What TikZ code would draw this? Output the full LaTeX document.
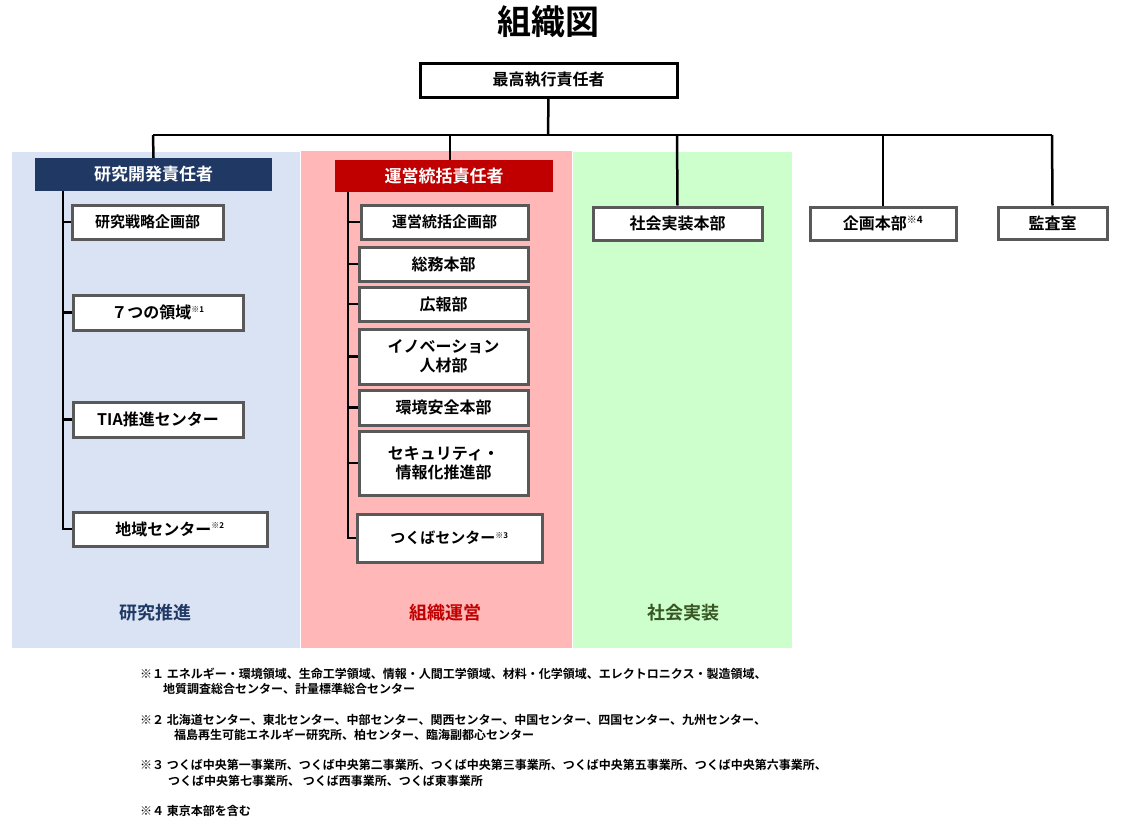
\documentclass[tikz,border=0pt]{standalone}
\usepackage{fontspec}
\setmainfont{Noto Sans CJK JP}[BoldFont={Noto Sans CJK JP Bold}]
\newfontfamily\jpb{Noto Sans CJK JP Bold}
\begin{document}
\begin{tikzpicture}[x=1pt,y=-1pt,font=\jpb,
 bx/.style={draw=black!65,line width=3pt,fill=white,font=\jpb\fontsize{16}{19}\selectfont,align=center,inner sep=0pt},
 hd/.style={font=\jpb\fontsize{17}{20}\selectfont,text=white,inner sep=0pt},
 ln/.style={line width=2.5pt,black},
 fn/.style={anchor=west,font=\jpb\fontsize{12}{15}\selectfont,inner sep=0pt}]
\useasboundingbox (0,0) rectangle (1128,822);
\fill[fill={rgb,255:red,218;green,227;blue,243}] (12,152) rectangle (300,648);
\fill[fill={rgb,255:red,255;green,183;blue,183}] (301,151) rectangle (572,648);
\fill[fill={rgb,255:red,204;green,255;blue,204}] (573,152) rectangle (792,648);
\node[font=\jpb\fontsize{34}{40}\selectfont] (title) at (548,22) {組織図};
\node[bx,draw=black,minimum width=257,minimum height=34] (ceo) at (548.5,80) {最高執行責任者};
\coordinate (bl) at (153,135); \coordinate (br) at (1052,135);
\draw[ln] (ceo.south) -- (548,135);
\draw[ln] (bl) -- (br);
\node[hd,fill={rgb,255:red,31;green,56;blue,100},minimum width=237,minimum height=33] (rd) at (153.5,174.5) {研究開発責任者};
\node[hd,fill={rgb,255:red,192;green,0;blue,0},minimum width=218,minimum height=32] (op) at (444,176) {運営統括責任者};
\node[bx,minimum width=169,minimum height=33] (sj) at (677.5,223.5) {社会実装本部};
\node[bx,minimum width=146,minimum height=33] (kk) at (883,223.5) {企画本部\textsuperscript{\fontsize{10}{10}\selectfont ※4}};
\node[bx,minimum width=109,minimum height=32] (ka) at (1052.5,223) {監査室};
\draw[ln] (bl) -- (rd.north);
\draw[ln] (450,135) -- (450,160);
\draw[ln] (677,135) -- (sj.north);
\draw[ln] (883,135) -- (kk.north);
\draw[ln] (br) -- (ka.north);
% left column
\node[bx,minimum width=151,minimum height=34,font=\jpb\fontsize{15}{18}\selectfont] (l1) at (147.5,222) {研究戦略企画部};
\node[bx,minimum width=170,minimum height=35] (l2) at (158,312.5) {７つの領域\textsuperscript{\fontsize{8}{8}\selectfont ※1}};
\node[bx,minimum width=170,minimum height=35] (l3) at (158,419.5) {TIA推進センター};
\node[bx,minimum width=194,minimum height=34] (l4) at (170,529) {地域センター\textsuperscript{\fontsize{8}{8}\selectfont ※2}};
\coordinate (ls) at (63,191);
\draw[ln] (ls) -- (63,529) -- (l4.west);
\foreach \n in {l1,l2,l3} \draw[ln] (63,0 |- \n.west) -- (\n.west);
% middle column
\node[bx,minimum width=167,minimum height=34,font=\jpb\fontsize{15}{18}\selectfont] (m1) at (444.5,222) {運営統括企画部};
\node[bx,minimum width=169,minimum height=34] (m2) at (443.5,264) {総務本部};
\node[bx,minimum width=169,minimum height=34] (m3) at (443.5,304) {広報部};
\node[bx,minimum width=169,minimum height=55] (m4) at (443.5,356.5) {イノベーション\\人材部};
\node[bx,minimum width=169,minimum height=35] (m5) at (443.5,407.5) {環境安全本部};
\node[bx,minimum width=169,minimum height=64] (m6) at (443.5,463) {セキュリティ・\\情報化推進部};
\node[bx,minimum width=185,minimum height=48,font=\jpb\fontsize{15}{18}\selectfont] (m7) at (449.5,538) {つくばセンター\textsuperscript{\fontsize{8}{8}\selectfont ※3}};
\draw[ln] (348,192) -- (348,538) -- (m7.west);
\foreach \n in {m1,m2,m3,m4,m5,m6} \draw[ln] (348,0 |- \n.west) -- (\n.west);
% bottom labels
\node[font=\jpb\fontsize{18}{22}\selectfont,text={rgb,255:red,31;green,56;blue,100}] (t1) at (155,613) {研究推進};
\node[font=\jpb\fontsize{18}{22}\selectfont,text={rgb,255:red,192;green,0;blue,0}] (t2) at (445,613) {組織運営};
\node[font=\jpb\fontsize{18}{22}\selectfont,text={rgb,255:red,55;green,86;blue,35}] (t3) at (683,613) {社会実装};
% footnotes
\node[fn] (f1) at (140,674) {※１ エネルギー・環境領域、生命工学領域、情報・人間工学領域、材料・化学領域、エレクトロニクス・製造領域、};
\node[fn] (f1b) at (163,689) {地質調査総合センター、計量標準総合センター};
\node[fn] (f2) at (140,720) {※２ 北海道センター、東北センター、中部センター、関西センター、中国センター、四国センター、九州センター、};
\node[fn] (f2b) at (174,735) {福島再生可能エネルギー研究所、柏センター、臨海副都心センター};
\node[fn] (f3) at (140,765) {※３ つくば中央第一事業所、つくば中央第二事業所、つくば中央第三事業所、つくば中央第五事業所、つくば中央第六事業所、};
\node[fn] (f3b) at (168,781) {つくば中央第七事業所、 つくば西事業所、つくば東事業所};
\node[fn] (f4) at (140,811) {※４ 東京本部を含む};
\end{tikzpicture}
\end{document}
